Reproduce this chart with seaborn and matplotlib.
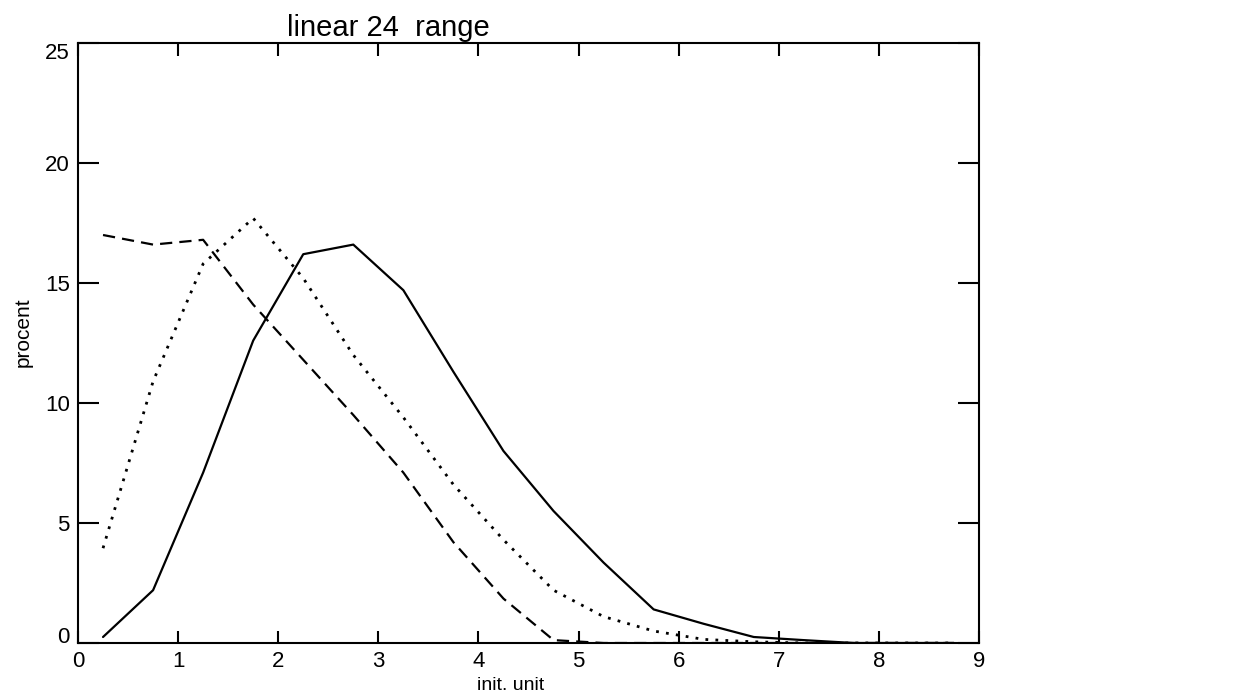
import matplotlib
matplotlib.use("Agg")
import matplotlib.pyplot as plt
import pandas as pd
import seaborn as sns

# ---- data ----
init_unit = [0.25, 0.75, 1.25, 1.75, 2.25, 2.75, 3.25, 3.75, 4.25,
             4.75, 5.25, 5.75, 6.25, 6.75, 7.25, 7.75, 8.25, 8.75]
solid_pct = [0.25, 2.2, 7.1, 12.6, 16.2, 16.6, 14.7, 11.3, 8.0,
             5.5, 3.35, 1.4, 0.8, 0.25, 0.12, 0.0, 0.0, 0.0]
dotted_pct = [3.95, 10.9, 15.8, 17.7, 15.2, 12.0, 9.4, 6.6, 4.3,
              2.2, 1.1, 0.5, 0.15, 0.05, 0.0, 0.0, 0.0, 0.0]
dashed_pct = [17.0, 16.6, 16.8, 14.1, 11.8, 9.5, 7.1, 4.2, 1.85,
              0.12, 0.0, 0.0, 0.0, 0.0, 0.0, 0.0, 0.0, 0.0]
series_names = ["solid", "dotted", "dashed"]
x_ticks = [0, 1, 2, 3, 4, 5, 6, 7, 8, 9]
y_ticks = [0, 5, 10, 15, 20, 25]
title_text = "linear 24  range"
x_label = "init. unit"
y_label = "procent"

sns.set_style("ticks")
plt.rcParams["font.family"] = ["Liberation Sans", "DejaVu Sans"]
plt.rcParams["text.color"] = "black"
plt.rcParams["axes.labelcolor"] = "black"

df = pd.concat([
    pd.DataFrame({"init_unit": init_unit, "procent": vals, "series": name})
    for name, vals in zip(series_names, [solid_pct, dotted_pct, dashed_pct])
], ignore_index=True)

W, H = 1243, 695
fig = plt.figure(figsize=(W / 100, H / 100), dpi=100)
ax = fig.add_axes([78 / W, 1 - 643 / H, 901 / W, 600 / H])

sns.lineplot(data=df, x="init_unit", y="procent", style="series",
             style_order=series_names,
             dashes={"solid": "", "dotted": (1, 3.2), "dashed": (5.5, 3.2)},
             color="black", linewidth=1.6, legend=False, ax=ax,
             estimator=None, sort=False)
# dotted line a touch bolder, like the scanned original
lines = ax.get_lines()
if len(lines) >= 2:
    lines[1].set_linewidth(2.0)
    lines[1].set_dashes((1, 2.6))

ax.set_xlim(0, 9)
ax.set_ylim(0, 25)
ax.set_xticks(x_ticks)
ax.set_yticks(y_ticks)
ax.set_xticklabels([str(t) for t in x_ticks], fontsize=16, color="black")
ax.set_yticklabels([str(t) for t in y_ticks], fontsize=16, color="black")
ylabs = ax.get_yticklabels()
ylabs[0].set_verticalalignment("baseline")
ylabs[-1].set_verticalalignment("top")

for s in ax.spines.values():
    s.set_visible(True)
    s.set_linewidth(1.5)
    s.set_color("black")

ax.tick_params(axis="x", direction="in", top=True, bottom=True,
               length=9, width=1.5, pad=6, colors="black")
ax.tick_params(axis="y", direction="in", left=True, right=True,
               length=15, width=1.5, pad=6, colors="black")

ax.set_xlabel(x_label, fontsize=14, color="black")
ax.set_ylabel(y_label, fontsize=15, color="black")
ax.xaxis.set_label_coords(0.48, -0.056)
ax.yaxis.set_label_coords(-0.05, 0.518)
ax.set_title(title_text, fontsize=21, x=0.344, pad=5, color="black")

fig.savefig("out.png", dpi=100, facecolor="white")
